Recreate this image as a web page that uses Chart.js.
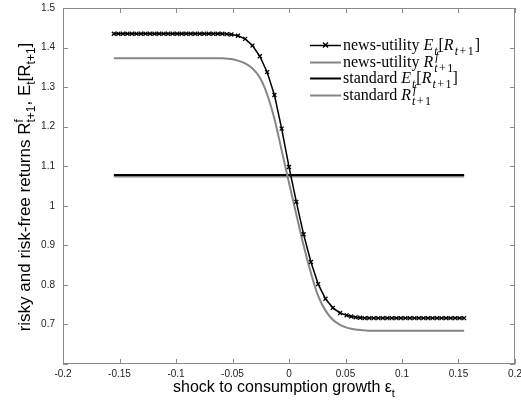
<!DOCTYPE html>
<html>
<head>
<meta charset="utf-8">
<script src="https://cdn.jsdelivr.net/npm/chart.js@4/dist/chart.umd.min.js"></script>
<style>
html,body{margin:0;padding:0;background:#fff;}
canvas{display:block;}
</style>
</head>
<body>
<canvas id="c" width="521" height="411"></canvas>
<script>
// ---- data ----
const shock = [
 -0.155,-0.151,-0.147,-0.143,-0.139,-0.135,-0.131,-0.127,-0.123,-0.119,-0.115,-0.111,-0.107,-0.103,
 -0.099,-0.095,-0.091,-0.087,-0.083,-0.079,-0.075,-0.071,-0.067,-0.063,-0.059,-0.055,-0.051,
 -0.0452,-0.0388,-0.0323,-0.0258,-0.0194,-0.0129,-0.0065,0,0.0065,0.0129,0.0194,0.0258,0.0323,0.0388,0.0452,
 0.051,0.055,0.059,0.063,0.067,0.071,0.075,0.079,0.083,0.087,0.091,0.095,0.099,0.103,
 0.107,0.111,0.115,0.119,0.123,0.127,0.131,0.135,0.139,0.143,0.147,0.151,0.155
];
const newsUtilityExpected = [
 1.435,1.435,1.435,1.435,1.435,1.435,1.435,1.435,1.435,1.435,1.435,1.435,1.435,1.435,
 1.435,1.435,1.435,1.435,1.435,1.435,1.435,1.435,1.435,1.435,1.435,1.434,1.433,
 1.430,1.422,1.405,1.378,1.338,1.280,1.195,1.098,1.010,0.928,0.858,0.802,0.765,0.742,0.729,
 0.723,0.720,0.718,0.717,0.716,0.716,0.716,0.716,0.716,0.716,0.716,0.716,0.716,0.716,
 0.716,0.716,0.716,0.716,0.716,0.716,0.716,0.716,0.716,0.716,0.716,0.716,0.716
];
const newsUtilityRiskFree = [
 1.373,1.373,1.373,1.373,1.373,1.373,1.373,1.373,1.373,1.373,1.373,1.373,1.373,1.373,
 1.373,1.373,1.373,1.373,1.373,1.373,1.373,1.373,1.373,1.373,1.373,1.372,1.371,
 1.367,1.360,1.347,1.324,1.282,1.220,1.140,1.058,0.978,0.900,0.830,0.772,0.735,0.712,0.699,
 0.692,0.689,0.687,0.686,0.685,0.684,0.684,0.684,0.684,0.684,0.684,0.684,0.684,0.684,
 0.684,0.684,0.684,0.684,0.684,0.684,0.684,0.684,0.684,0.684,0.684,0.684,0.684
];
const standardShock = [-0.155, 0.155];
const standardExpected = [1.078, 1.078];
const standardRiskFree = [1.074, 1.074];

const xTicks = [-0.2,-0.15,-0.1,-0.05,0,0.05,0.1,0.15,0.2];
const xTickLabels = ['-0.2','-0.15','-0.1','-0.05','0','0.05','0.1','0.15','0.2'];
const yTicks = [0.6,0.7,0.8,0.9,1.0,1.1,1.2,1.3,1.4,1.5];
const yTickLabels = ['','0.7','0.8','0.9','1','1.1','1.2','1.3','1.4','1.5'];

// legend labels (rich text parts)
const legendLabels = [
  ['news-utility ', {i:'E'}, {sub:'t'}, '[', {i:'R'}, {sub:'t+1'}, ']'],
  ['news-utility ', {i:'R'}, {sup:'f', sub:'t+1'}],
  ['standard ', {i:'E'}, {sub:'t'}, '[', {i:'R'}, {sub:'t+1'}, ']'],
  ['standard ', {i:'R'}, {sup:'f', sub:'t+1'}]
];
const xTitle = ['shock to consumption growth \u03b5', {sub:'t'}];
const yTitle = ['risky and risk-free returns R', {sup:'f', sub:'t+1'}, ', E', {sub:'t'}, '[R', {sub:'t+1'}, ']'];

// ---- helpers ----
function toPts(xs, ys){ return xs.map((x,i)=>({x:x, y:ys[i]})); }

// math: true -> italic "t" in subscripts, wider spacing like TeX
function drawRich(ctx, parts, x, y, fam, size, draw, math){
  let cx = x;
  const ss = Math.round(size*(math ? 0.75 : 0.7));
  function sub(txt, sx, sy){
    let w = 0;
    for (const ch of txt){
      if (math && /[a-z]/.test(ch)) ctx.font = 'italic ' + ss + 'px ' + fam;
      else ctx.font = ss + 'px ' + fam;
      const pad = (math && ch === '+') ? 1.5 : 0;
      if (draw) ctx.fillText(ch, sx + w + pad, sy);
      w += ctx.measureText(ch).width + 2*pad;
    }
    return w;
  }
  for (const p of parts){
    if (typeof p === 'string'){
      ctx.font = size + 'px ' + fam;
      if (draw) ctx.fillText(p, cx, y);
      cx += ctx.measureText(p).width;
    } else if (p.i){
      ctx.font = 'italic ' + size + 'px ' + fam;
      if (draw) ctx.fillText(p.i, cx, y);
      cx += ctx.measureText(p.i).width + (math ? 1 : 0);
    } else {
      let w = 0;
      if (p.sup) w = Math.max(w, sub(p.sup, cx + (math ? 1 : 0), y - size*0.42));
      if (p.sub) w = Math.max(w, sub(p.sub, cx, y + size*0.3));
      cx += w + (math ? 1 : 0);
    }
  }
  return cx - x;
}

const decorPlugin = {
  id: 'decor',
  afterDraw(chart){
    const ctx = chart.ctx;
    const a = chart.chartArea;
    const xs = chart.scales.x, ys = chart.scales.y;
    ctx.save();
    // box
    ctx.strokeStyle = '#8a8a8a';
    ctx.lineWidth = 1;
    ctx.strokeRect(Math.round(a.left)+0.5, Math.round(a.top)+0.5, Math.round(a.right-a.left)-1, Math.round(a.bottom-a.top)-1);
    // inward ticks
    const tl = 5;
    ctx.beginPath();
    xTicks.forEach(v=>{
      const px = Math.round(xs.getPixelForValue(v))+0.5;
      ctx.moveTo(px, a.bottom); ctx.lineTo(px, a.bottom - tl);
      ctx.moveTo(px, a.top); ctx.lineTo(px, a.top + tl);
    });
    yTicks.forEach(v=>{
      const py = Math.round(ys.getPixelForValue(v))+0.5;
      ctx.moveTo(a.left, py); ctx.lineTo(a.left + tl, py);
      ctx.moveTo(a.right, py); ctx.lineTo(a.right - tl, py);
    });
    ctx.stroke();

    // legend
    const serif = '"Liberation Serif", "Times New Roman", serif';
    const rowY = [45, 62, 78, 95];
    const styles = chart.data.datasets;
    ctx.textBaseline = 'alphabetic';
    ctx.fillStyle = '#000';
    legendLabels.forEach((parts, i)=>{
      const ds = styles[i];
      const y = rowY[i];
      ctx.strokeStyle = ds.borderColor;
      ctx.lineWidth = ds.borderWidth;
      ctx.beginPath(); ctx.moveTo(310, y + 0.5); ctx.lineTo(341, y + 0.5); ctx.stroke();
      if (ds.pointRadius > 0){
        ctx.lineWidth = 1.3;
        ctx.beginPath();
        ctx.moveTo(323, y-2.5); ctx.lineTo(328, y+2.5);
        ctx.moveTo(323, y+2.5); ctx.lineTo(328, y-2.5);
        ctx.stroke();
      }
      ctx.fillStyle = '#000';
      drawRich(ctx, parts, 343, y + 5, serif, 16, true, true);
    });

    // axis titles
    const sans = '"Liberation Sans", Arial, sans-serif';
    ctx.fillStyle = '#000';
    const xw = drawRich(ctx, xTitle, 0, 0, sans, 16, false, false);
    drawRich(ctx, xTitle, 284 - xw/2, 392, sans, 16, true, false);
    const yw = drawRich(ctx, yTitle, 0, 0, sans, 17, false, false);
    ctx.translate(30, 187);
    ctx.rotate(-Math.PI/2);
    drawRich(ctx, yTitle, -yw/2, 0, sans, 17, true, false);
    ctx.restore();
  }
};

const gray = '#858585';
new Chart(document.getElementById('c'), {
  type: 'line',
  data: {
    datasets: [
      { data: toPts(shock, newsUtilityExpected), borderColor: '#000', borderWidth: 1.5,
        pointStyle: 'crossRot', pointRadius: 2.8, pointBorderColor: '#000', pointBorderWidth: 1.3, tension: 0 },
      { data: toPts(shock, newsUtilityRiskFree), borderColor: gray, borderWidth: 2, pointRadius: 0, tension: 0.3 },
      { data: toPts(standardShock, standardExpected), borderColor: '#000', borderWidth: 2, pointRadius: 0 },
      { data: toPts(standardShock, standardRiskFree), borderColor: gray, borderWidth: 2, pointRadius: 0 }
    ]
  },
  options: {
    responsive: false,
    animation: false,
    devicePixelRatio: 1,
    layout: { padding: { top: 8, right: 6, left: 0, bottom: 0 } },
    plugins: { legend: { display: false }, tooltip: { enabled: false } },
    scales: {
      x: {
        type: 'linear', min: -0.2, max: 0.2,
        grid: { display: false, drawTicks: false },
        border: { display: false },
        afterBuildTicks: s => { s.ticks = xTicks.map(v=>({value:v})); },
        afterFit: s => { s.height = 47; s.paddingLeft = 0; s.paddingRight = 0; },
        ticks: {
          padding: 4, color: '#222', maxRotation: 0, autoSkip: false,
          font: { family: '"Liberation Sans", Arial, sans-serif', size: 10 },
          callback: (v, i) => xTickLabels[i]
        }
      },
      y: {
        type: 'linear', min: 0.6, max: 1.5,
        grid: { display: false, drawTicks: false },
        border: { display: false },
        afterBuildTicks: s => { s.ticks = yTicks.map(v=>({value:v})); },
        afterFit: s => { s.width = 63; s.paddingTop = 0; s.paddingBottom = 0; },
        ticks: {
          padding: 8, color: '#222', autoSkip: false,
          font: { family: '"Liberation Sans", Arial, sans-serif', size: 10 },
          callback: (v, i) => yTickLabels[i]
        }
      }
    }
  },
  plugins: [decorPlugin]
});
</script>
</body>
</html>
